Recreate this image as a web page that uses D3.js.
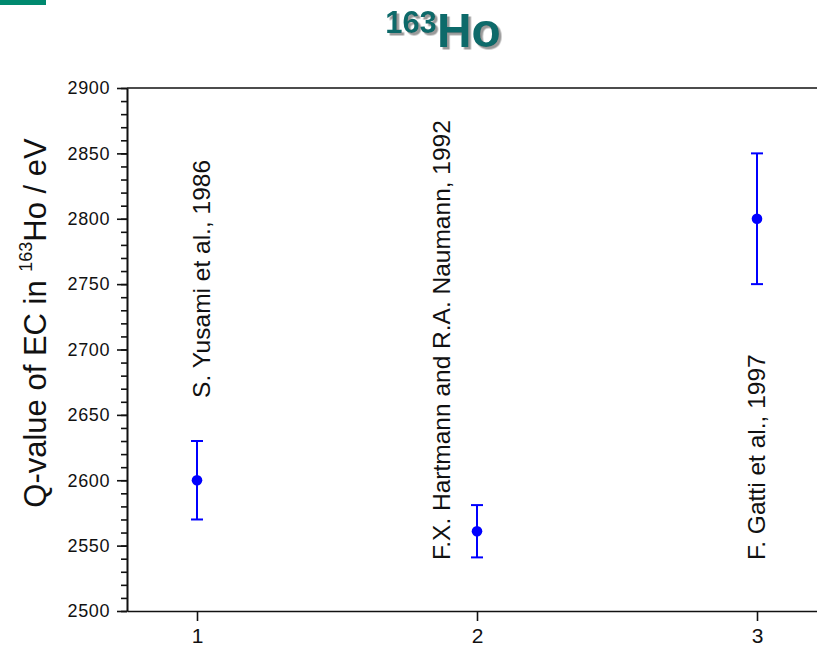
<!DOCTYPE html>
<html>
<head>
<meta charset="utf-8">
<script src="https://cdn.jsdelivr.net/npm/d3@7"></script>
<style>
  html, body { margin: 0; padding: 0; background: #fff; }
  svg { display: block; overflow: hidden; }
  text { font-family: "Liberation Sans", Arial, sans-serif; }
</style>
</head>
<body>
<div id="chart"></div>
<script>
// data
var positions = [1, 2, 3];
var qValues = [2600, 2561, 2800];
var qErrors = [30, 20, 50];
var authors = ["S. Yusami et al., 1986", "F.X. Hartmann and R.A. Naumann, 1992", "F. Gatti et al., 1997"];
// where each rotated label starts, in data units
var labelX = [1.046, 1.904, 3.029];
var labelY = [2663, 2539, 2539];
var yTicks = [2500, 2550, 2600, 2650, 2700, 2750, 2800, 2850, 2900];
var xTicks = [1, 2, 3];

var dims = { width: 817, height: 649, margin: { top: 88, left: 127, bottom: 38 } };
dims.boundedHeight = dims.height - dims.margin.top - dims.margin.bottom;
dims.boundedWidth = 700;

var svg = d3.select("#chart").append("svg")
  .attr("width", dims.width)
  .attr("height", dims.height);

var defs = svg.append("defs");
defs.append("filter").attr("id", "shadow")
  .attr("x", "-10%").attr("y", "-10%").attr("width", "130%").attr("height", "130%")
  .append("feDropShadow")
  .attr("dx", 2.5).attr("dy", 2.5).attr("stdDeviation", 0.6)
  .attr("flood-color", "#9a9a9a").attr("flood-opacity", 1);

// corner bar
svg.append("rect").attr("x", 0).attr("y", 0).attr("width", 46).attr("height", 5).attr("fill", "#00896f");

// title
var t = svg.append("text")
  .attr("x", 443).attr("y", 47)
  .attr("text-anchor", "middle")
  .attr("fill", "#0a6a6a")
  .attr("filter", "url(#shadow)")
  .style("font-weight", "bold");
t.append("tspan").style("font-size", "31px").attr("dy", -14).text("163");
t.append("tspan").style("font-size", "48px").attr("dy", 14).text("Ho");

var bounds = svg.append("g").attr("transform", "translate(" + dims.margin.left + "," + dims.margin.top + ")");

var x = d3.scaleLinear().domain([0.75, 3.25]).range([0, dims.boundedWidth]);
var y = d3.scaleLinear().domain([2500, 2900]).range([dims.boundedHeight, 0]);

// minor y ticks
bounds.append("g")
  .call(d3.axisLeft(y).tickValues(d3.range(2500, 2901, 10)).tickSize(6).tickSizeOuter(0).tickFormat(""));
// major y ticks
var yAxis = bounds.append("g")
  .call(d3.axisLeft(y).tickValues(yTicks).tickSize(10).tickSizeOuter(0).tickPadding(7).tickFormat(d3.format("d")));
yAxis.selectAll("text").style("font-size", "18px").attr("fill", "#111").style("letter-spacing", "0.6px");

var xAxis = bounds.append("g")
  .attr("transform", "translate(0," + dims.boundedHeight + ")")
  .call(d3.axisBottom(x).tickValues(xTicks).tickSize(10).tickSizeOuter(0).tickPadding(7).tickFormat(d3.format("d")));
xAxis.selectAll("text").style("font-size", "21px").attr("fill", "#111");

bounds.selectAll(".domain, .tick line").attr("stroke", "#111").attr("stroke-width", 1.6);

// top frame line
bounds.append("line")
  .attr("x1", 0).attr("x2", dims.boundedWidth)
  .attr("y1", y(2900)).attr("y2", y(2900))
  .attr("stroke", "#111").attr("stroke-width", 1.6);

// y axis title
var yt = svg.append("text")
  .attr("transform", "translate(46,323) rotate(-90)")
  .attr("text-anchor", "middle")
  .style("font-size", "31px")
  .attr("fill", "#111");
yt.append("tspan").text("Q-value of EC in ");
yt.append("tspan").style("font-size", "18px").attr("dy", -14).text("163");
yt.append("tspan").attr("dy", 14).text("Ho / eV");

// error bars
var bars = bounds.selectAll(".err").data(positions).join("g").attr("class", "err");
bars.append("line")
  .attr("x1", function (d) { return x(d); }).attr("x2", function (d) { return x(d); })
  .attr("y1", function (d, i) { return y(qValues[i] - qErrors[i]); })
  .attr("y2", function (d, i) { return y(qValues[i] + qErrors[i]); })
  .attr("stroke", "#0000ff").attr("stroke-width", 2);
[-1, 1].forEach(function (s) {
  bars.append("line")
    .attr("x1", function (d) { return x(d) - 6; }).attr("x2", function (d) { return x(d) + 6; })
    .attr("y1", function (d, i) { return y(qValues[i] + s * qErrors[i]); })
    .attr("y2", function (d, i) { return y(qValues[i] + s * qErrors[i]); })
    .attr("stroke", "#0000ff").attr("stroke-width", 2);
});
bars.append("circle")
  .attr("cx", function (d) { return x(d); })
  .attr("cy", function (d, i) { return y(qValues[i]); })
  .attr("r", 5.3)
  .attr("fill", "#0000ff");

// author labels
bounds.selectAll(".author").data(authors).join("text")
  .attr("class", "author")
  .attr("transform", function (d, i) { return "translate(" + x(labelX[i]) + "," + y(labelY[i]) + ") rotate(-90)"; })
  .style("font-size", "24.5px")
  .attr("fill", "#111")
  .text(function (d) { return d; });
</script>
</body>
</html>
